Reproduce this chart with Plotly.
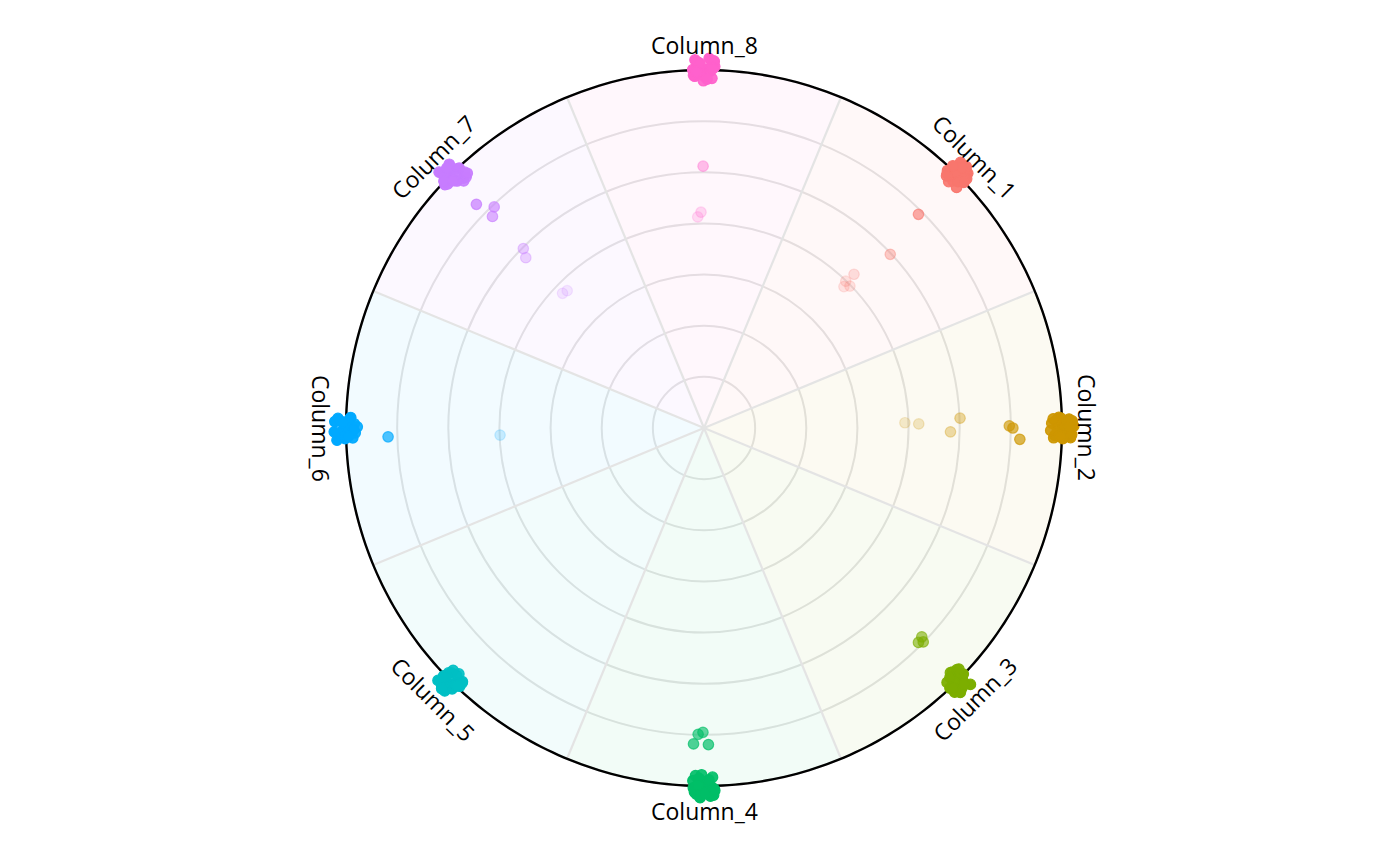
import math
import plotly.graph_objects as go

# ---------------- data ----------------
columns = ["Column_1", "Column_2", "Column_3", "Column_4",
           "Column_5", "Column_6", "Column_7", "Column_8"]
column_angles = [45, 0, -45, -90, -135, 180, 135, 90]
colors = ["#F8766D", "#CD9600", "#7CAE00", "#00BE67",
          "#00BFC4", "#00A9FF", "#C77CFF", "#FF61CC"]
radial_max = 7
grid_values = [1, 2, 3, 4, 5, 6, 7]

# points per column: radial values and angles (degrees)
col1_r = [7.17, 7.05, 6.90, 6.82, 7.22, 7.02, 6.93, 7.12, 6.86, 7.08, 6.97, 7.14, 6.88, 7.00,
          6.79, 7.24, 7.04, 6.84, 7.16, 6.92, 7.07, 6.99,
          5.92, 4.98, 4.20, 3.99, 3.89, 3.98]
col1_theta = [44.0, 46.2, 45.5, 43.6, 46.0, 44.3, 46.6, 45.1, 44.8, 43.5, 45.8, 44.6, 46.3, 45.0,
              45.2, 44.9, 43.8, 46.1, 45.3, 44.1, 46.5, 43.4,
              44.9, 43.0, 45.7, 46.0, 45.3, 44.2]

col2_r = [7.14, 6.86, 7.23, 6.94, 7.05, 6.80, 7.17, 7.00, 6.91, 7.20, 6.84, 7.09, 6.98, 7.03,
          6.78, 7.19, 6.88, 7.11, 7.02, 6.83, 7.15, 6.96,
          3.93, 4.20, 5.01, 4.82, 5.97, 6.04, 6.18]
col2_theta = [1.4, -1.2, 0.3, 1.7, -0.6, 0.8, -1.5, 0.0, -0.2, 1.1, -1.6, -0.9, 1.6, 0.5,
              -0.4, -1.0, 1.2, 0.9, -1.7, 1.5, 0.2, -1.3,
              1.5, 1.1, 2.2, -0.9, 0.4, 0.0, -2.05]

col3_r = [7.05, 6.88, 7.18, 6.84, 7.12, 6.97, 7.23, 6.92, 7.02, 6.81, 7.15, 6.99, 7.08, 6.90,
          7.20, 6.79, 7.00, 6.86, 7.13, 6.95, 7.04, 6.85,
          5.90, 5.93, 5.99]
col3_theta = [-44.2, -46.3, -45.6, -43.7, -46.5, -44.9, -43.9, -45.2, -46.0, -44.5, -45.0, -43.5, -46.4, -44.0,
              -45.9, -44.8, -46.6, -43.4, -44.6, -45.5, -46.2, -45.4,
              -43.8, -45.0, -44.3]

col4_r = [7.12, 6.83, 7.00, 7.20, 6.90, 7.06, 6.86, 7.16, 6.96, 7.23, 6.80, 7.02, 6.93, 7.13,
          7.18, 6.78, 7.04, 6.88, 7.09, 6.85, 6.98, 7.15,
          5.99, 5.95, 6.18, 6.19]
col4_theta = [-91.5, -88.6, -90.2, -89.0, -91.8, -88.4, -90.9, -91.2, -89.5, -90.6, -91.4, -88.8, -90.0, -89.7,
              -88.5, -90.4, -91.7, -89.2, -88.3, -90.8, -91.0, -89.9,
              -91.1, -90.2, -91.9, -89.2]

col5_r = [7.09, 6.92, 7.19, 6.85, 7.03, 7.14, 6.88, 6.99, 7.22, 6.82, 7.06, 6.95, 7.12, 7.01,
          6.79, 7.17, 6.87, 7.04, 6.93, 7.23, 6.98, 6.84]
col5_theta = [-134.0, -136.2, -135.5, -133.6, -136.4, -134.8, -135.9, -133.9, -134.6, -136.0, -135.1, -133.4,
              -135.7, -134.3, -134.9, -136.5, -133.5, -136.3, -134.1, -135.2, -133.8, -135.0]

col6_r = [7.16, 6.87, 7.04, 7.22, 6.94, 7.10, 6.82, 7.00, 7.18, 6.91, 7.07, 6.84, 7.13, 6.97,
          6.78, 7.23, 6.92, 7.02, 6.85, 7.12, 6.96, 7.06,
          6.18, 3.99]
col6_theta = [178.5, 181.6, 180.2, 179.0, 178.7, 181.3, 180.8, 179.6, 181.9, 178.3, 180.5, 179.3, 181.0, 180.0,
              179.8, 180.6, 178.4, 181.7, 180.3, 178.9, 181.4, 179.1,
              181.6, 182.0]

col7_r = [7.14, 6.95, 7.05, 6.78, 7.20, 6.87, 7.00, 6.74, 7.11, 6.92, 6.83, 7.03, 6.98, 7.17,
          6.85, 7.08, 6.76, 6.93, 7.01, 6.80, 7.15, 6.89,
          6.24, 5.96, 5.85, 4.98, 4.82, 3.82, 3.79]
col7_theta = [135.6, 136.8, 134.5, 133.9, 136.0, 135.2, 133.6, 134.2, 134.9, 136.4, 135.0, 136.1, 133.3, 134.0,
              133.1, 135.9, 133.5, 134.6, 136.5, 132.9, 134.7, 135.4,
              135.5, 133.5, 135.0, 135.2, 136.3, 136.4, 134.9]

col8_r = [7.18, 6.88, 7.04, 7.23, 6.84, 7.11, 6.95, 7.01, 7.15, 6.87, 7.07, 6.92, 7.20, 6.98,
          6.79, 7.17, 6.90, 7.06, 6.82, 7.13, 6.97, 7.03,
          5.12, 4.22, 4.13]
col8_theta = [88.5, 91.5, 90.3, 89.2, 88.7, 91.0, 89.6, 91.8, 90.9, 89.9, 88.3, 90.6, 91.4, 89.0,
              90.1, 88.4, 91.7, 88.9, 89.5, 90.7, 91.2, 88.6,
              90.2, 90.8, 91.7]

series_r = [col1_r, col2_r, col3_r, col4_r, col5_r, col6_r, col7_r, col8_r]
series_theta = [col1_theta, col2_theta, col3_theta, col4_theta,
                col5_theta, col6_theta, col7_theta, col8_theta]

# ---------------- layout geometry ----------------
W, H = 1400, 866
R_EXT = 7.45                       # radial range kept a bit beyond the frame so jittered points stay visible
OUTER_PX = 358                     # pixel radius of the frame circle
CENTER_X, CENTER_Y = 696, 420      # polar centre in layout pixels
polar_radius_px = OUTER_PX * R_EXT / radial_max
side = 2 * polar_radius_px
M_L = CENTER_X - polar_radius_px
M_T = CENTER_Y - polar_radius_px
M_R = W - M_L - side
M_B = H - M_T - side
plot_w = W - M_L - M_R
plot_h = H - M_T - M_B


def rgba(hex_color, a):
    h = hex_color.lstrip("#")
    r, g, b = int(h[0:2], 16), int(h[2:4], 16), int(h[4:6], 16)
    return f"rgba({r},{g},{b},{a:.3f})"


grid_color = "#e4e4e4"
fig = go.Figure()

# sector backgrounds
for name, ang, col in zip(columns, column_angles, colors):
    fig.add_trace(go.Barpolar(
        r=[radial_max], theta=[ang], width=[45],
        marker=dict(color=rgba(col, 0.05), line=dict(width=0)),
        showlegend=False, hoverinfo="skip", name=name,
    ))

# sector boundary lines
bound_r, bound_t = [], []
for ang in column_angles:
    bound_r += [0, radial_max, None]
    bound_t += [ang + 22.5, ang + 22.5, None]
fig.add_trace(go.Scatterpolar(
    r=bound_r, theta=bound_t, mode="lines",
    line=dict(color=grid_color, width=2.2),
    showlegend=False, hoverinfo="skip",
))

# frame circle
frame_theta = list(range(0, 361))
fig.add_trace(go.Scatterpolar(
    r=[radial_max] * len(frame_theta), theta=frame_theta, mode="lines",
    line=dict(color="#000000", width=2.4),
    showlegend=False, hoverinfo="skip",
))

# points
for name, col, rs, ths in zip(columns, colors, series_r, series_theta):
    alphas = [min(1.0, (v / radial_max) ** 3) for v in rs]
    fig.add_trace(go.Scatterpolar(
        r=rs, theta=ths, mode="markers", name=name, cliponaxis=False,
        marker=dict(size=10.5,
                    color=[rgba(col, a) for a in alphas],
                    line=dict(width=1.2, color=[rgba(col, a) for a in alphas])),
        showlegend=False,
    ))

# rotated column labels
label_r_px = OUTER_PX + 25
annotations = []
for name, ang in zip(columns, column_angles):
    rad = math.radians(ang)
    xp = 0.5 + label_r_px * math.cos(rad) / plot_w
    yp = 0.5 + label_r_px * math.sin(rad) / plot_h
    ta = 90 - ang
    while ta > 90:
        ta -= 180
    while ta <= -90:
        ta += 180
    annotations.append(dict(
        x=xp, y=yp, xref="paper", yref="paper", text=name, showarrow=False,
        textangle=ta, xanchor="center", yanchor="middle",
        font=dict(size=23, color="#000000", family="Open Sans, Noto Sans, sans-serif"),
    ))

fig.update_layout(
    width=W, height=H,
    margin=dict(l=M_L, r=M_R, t=M_T, b=M_B, pad=0),
    paper_bgcolor="white", plot_bgcolor="white",
    barmode="overlay",
    polar=dict(
        bgcolor="white",
        radialaxis=dict(range=[0, R_EXT], tickvals=grid_values, showticklabels=False, ticks="",
                        showline=False, gridcolor=grid_color, gridwidth=2.2),
        angularaxis=dict(type="linear", thetaunit="degrees", direction="counterclockwise",
                         rotation=0, showgrid=False,
                         showticklabels=False, ticks="", showline=False),
        bargap=0,
    ),
    annotations=annotations,
    showlegend=False,
)

fig.write_html("out.html")
